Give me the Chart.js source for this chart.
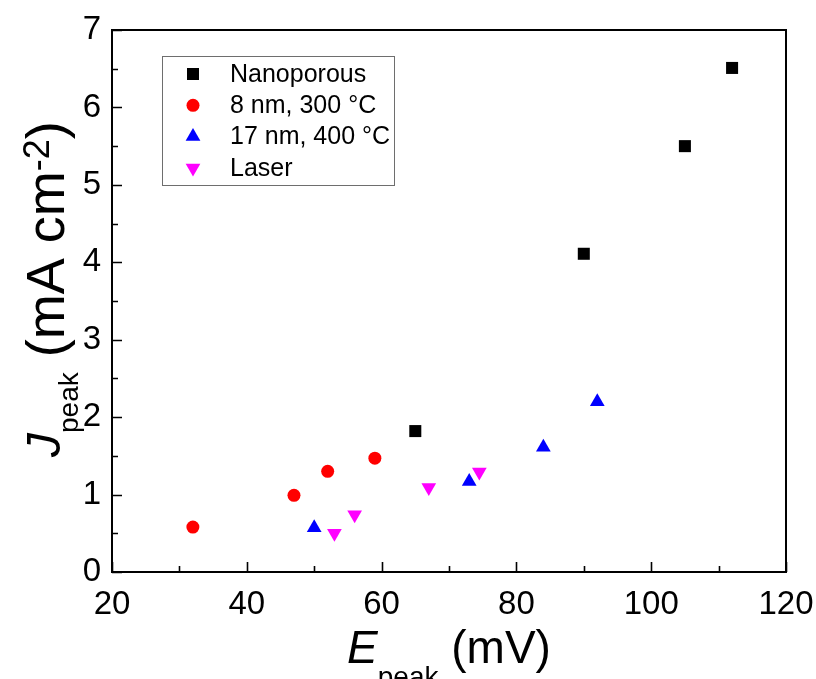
<!DOCTYPE html>
<html>
<head>
<meta charset="utf-8">
<script src="https://cdn.jsdelivr.net/npm/chart.js@4/dist/chart.umd.min.js"></script>
<style>
  html, body { margin: 0; padding: 0; background: #fff; }
  #wrap { width: 816px; height: 679px; position: relative; }
</style>
</head>
<body>
<div id="wrap"><canvas id="c" width="816" height="679"></canvas></div>
<script>
// ---- data ----
const seriesNames = ['Nanoporous', '8 nm, 300 °C', '17 nm, 400 °C', 'Laser'];
const nanoporousE = [65, 90, 105, 112];
const nanoporousJ = [1.82, 4.11, 5.50, 6.51];
const nm8E = [32, 47, 52, 59];
const nm8J = [0.58, 0.99, 1.30, 1.47];
const nm17E = [50, 73, 84, 92];
const nm17J = [0.57, 1.17, 1.61, 2.20];
const laserE = [53, 56, 67, 74.5];
const laserJ = [0.50, 0.74, 1.09, 1.29];
const xTicks = [20, 40, 60, 80, 100, 120];
const yTicks = [0, 1, 2, 3, 4, 5, 6, 7];

const FONT = '"Liberation Sans", Arial, Helvetica, sans-serif';

function pts(xs, ys) { return xs.map((x, i) => ({ x: x, y: ys[i] })); }

const styles = [
  { color: '#000000', pointStyle: 'rect', radius: 8.5, rotation: 0 },
  { color: '#ff0000', pointStyle: 'circle', radius: 6.5, rotation: 0 },
  { color: '#0000ff', pointStyle: 'triangle', radius: 8.5, rotation: 0 },
  { color: '#ff00ff', pointStyle: 'triangle', radius: 8.5, rotation: 180 }
];
const seriesData = [pts(nanoporousE, nanoporousJ), pts(nm8E, nm8J), pts(nm17E, nm17J), pts(laserE, laserJ)];

const datasets = seriesNames.map((name, i) => ({
  label: name,
  data: seriesData[i],
  backgroundColor: styles[i].color,
  borderColor: styles[i].color,
  borderWidth: 0,
  pointStyle: styles[i].pointStyle,
  pointRadius: styles[i].radius,
  pointHoverRadius: styles[i].radius,
  pointRotation: styles[i].rotation,
  showLine: false
}));

// frame + inward ticks
const framePlugin = {
  id: 'frame',
  afterDraw(chart) {
    const { ctx, chartArea: a, scales } = chart;
    ctx.save();
    ctx.strokeStyle = '#000';
    ctx.lineWidth = 2;
    ctx.strokeRect(a.left, a.top, a.right - a.left, a.bottom - a.top);
    ctx.lineWidth = 1.6;
    ctx.beginPath();
    const xs = scales.x, ys = scales.y;
    for (let v = xTicks[0]; v <= xTicks[xTicks.length - 1]; v += 10) {
      const px = Math.round(xs.getPixelForValue(v)) + 0.5;
      const len = (v % 20 === 0) ? 10 : 6;
      ctx.moveTo(px, a.bottom);
      ctx.lineTo(px, a.bottom - len);
    }
    for (let v = yTicks[0]; v <= yTicks[yTicks.length - 1] + 1e-9; v += 0.5) {
      const py = Math.round(ys.getPixelForValue(v)) + 0.5;
      const len = (Math.abs(v - Math.round(v)) < 1e-9) ? 10 : 6;
      ctx.moveTo(a.left, py);
      ctx.lineTo(a.left + len, py);
    }
    ctx.stroke();
    ctx.restore();
  }
};

// rich axis titles (italic symbol + subscript/superscript)
function drawRich(ctx, parts, x, y) {
  let cx = x;
  parts.forEach(p => {
    ctx.font = (p.italic ? 'italic ' : '') + p.size + 'px ' + FONT;
    ctx.fillText(p.t, cx, y + (p.dy || 0));
    cx += ctx.measureText(p.t).width;
  });
}
function richWidth(ctx, parts) {
  let w = 0;
  parts.forEach(p => {
    ctx.font = (p.italic ? 'italic ' : '') + p.size + 'px ' + FONT;
    w += ctx.measureText(p.t).width;
  });
  return w;
}
const titlePlugin = {
  id: 'titles',
  afterDraw(chart) {
    const { ctx, chartArea: a } = chart;
    ctx.save();
    ctx.fillStyle = '#000';
    ctx.textBaseline = 'alphabetic';
    ctx.textAlign = 'left';
    const xParts = [
      { t: 'E', size: 46, italic: true },
      { t: 'peak', size: 28, dy: 23 },
      { t: ' (mV)', size: 46 }
    ];
    const xw = richWidth(ctx, xParts);
    drawRich(ctx, xParts, (a.left + a.right) / 2 - xw / 2, 663);

    const yParts = [
      { t: 'J', size: 48, italic: true, dy: -4 },
      { t: 'peak', size: 28, dy: 14 },
      { t: ' (mA cm', size: 54 },
      { t: '-2', size: 36, dy: -15 },
      { t: ')', size: 54 }
    ];
    ctx.translate(64, 457);
    ctx.rotate(-Math.PI / 2);
    drawRich(ctx, yParts, 0, 0);
    ctx.restore();
  }
};

// legend box inside the plot
const legendPlugin = {
  id: 'legendBox',
  afterDraw(chart) {
    const { ctx } = chart;
    ctx.save();
    ctx.strokeStyle = '#6e6e6e';
    ctx.lineWidth = 1;
    ctx.strokeRect(162.5, 56.5, 232, 129);
    ctx.font = '25px ' + FONT;
    ctx.textBaseline = 'middle';
    ctx.textAlign = 'left';
    chart.data.datasets.forEach((ds, i) => {
      const y = 74 + i * 31.3;
      ctx.fillStyle = ds.backgroundColor;
      ctx.strokeStyle = ds.borderColor;
      Chart.helpers.drawPoint(ctx, {
        pointStyle: ds.pointStyle,
        radius: ds.pointRadius,
        rotation: ds.pointRotation,
        borderWidth: 0
      }, 193, y);
      ctx.fillStyle = '#000';
      ctx.fillText(ds.label, 230, y + 1);
    });
    ctx.restore();
  }
};

new Chart(document.getElementById('c'), {
  type: 'scatter',
  data: { datasets: datasets },
  options: {
    responsive: false,
    animation: false,
    devicePixelRatio: 1,
    layout: { padding: { top: 30, right: 30, left: 0, bottom: 0 } },
    plugins: { legend: { display: false }, tooltip: { enabled: false }, title: { display: false } },
    scales: {
      x: {
        type: 'linear',
        min: xTicks[0], max: xTicks[xTicks.length - 1],
        afterBuildTicks(s) { s.ticks = xTicks.map(v => ({ value: v })); },
        afterFit(s) { s.height = 107; s.paddingLeft = 0; s.paddingRight = 0; },
        grid: { display: false, drawTicks: false },
        border: { display: false },
        ticks: { color: '#000', font: { family: FONT, size: 33 }, padding: 13, maxRotation: 0, autoSkip: false }
      },
      y: {
        type: 'linear',
        min: yTicks[0], max: yTicks[yTicks.length - 1],
        afterBuildTicks(s) { s.ticks = yTicks.map(v => ({ value: v })); },
        afterFit(s) { s.width = 112; s.paddingTop = 0; s.paddingBottom = 0; },
        grid: { display: false, drawTicks: false },
        border: { display: false },
        ticks: { color: '#000', font: { family: FONT, size: 33 }, padding: 11, autoSkip: false }
      }
    }
  },
  plugins: [framePlugin, titlePlugin, legendPlugin]
});
</script>
</body>
</html>
